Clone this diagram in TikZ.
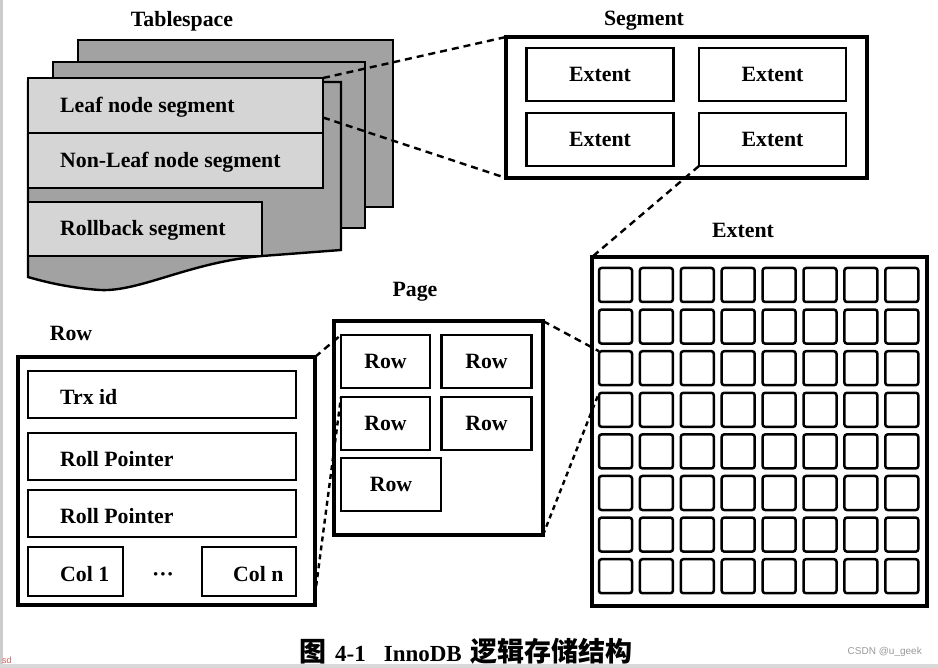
\documentclass[tikz,border=0pt]{standalone}
\usepackage{fontspec}
\setmainfont{Liberation Serif}
\newfontfamily\cjk{Noto Sans CJK SC}
\newfontfamily\wmfont{Liberation Sans}
\usetikzlibrary{calc}
\definecolor{tsdark}{HTML}{A2A2A2}
\definecolor{tslight}{HTML}{D5D5D5}
\definecolor{wmgray}{HTML}{9A9A9A}
\definecolor{sdred}{HTML}{D06060}
\begin{document}
\begin{tikzpicture}[x=1pt,y=-1pt,
  lbl/.style={font=\fontsize{21.8}{22}\selectfont\bfseries, inner sep=0pt},
  box/.style={draw, line width=2.5pt, inner sep=0pt, outer sep=0pt},
  bigbox/.style={draw, line width=3.1pt, inner sep=0pt, outer sep=0pt},
  sheet/.style={fill=tsdark, draw, line width=2.4pt},
  cell/.style={draw, line width=2.5pt, rounded corners=2.5pt, inner sep=0pt, outer sep=0pt, minimum width=33pt, minimum height=34pt},
  link/.style={line width=2.4pt, dash pattern=on 7pt off 5pt},
  dotlink/.style={line width=2.4pt, dash pattern=on 5pt off 4pt}]
\useasboundingbox (0,0) rectangle (938,668);
\fill[white] (0,0) rectangle (938,668);
\fill[gray!40] (0,0) rectangle (3,668);
\fill[gray!30] (0,664) rectangle (938,668);

% ---------- Tablespace ----------
\node[lbl] (tstitle) at (182,21) {Tablespace};
\filldraw[sheet] (78,40) rectangle (393,207);
\filldraw[sheet] (53,62) rectangle (365,228);
\filldraw[sheet] (28,82) -- (341,82) -- (341,250) -- (262,256)
  .. controls (190,262) and (140,292) .. (100,290)
  .. controls (70,288) and (45,282) .. (28,277) -- cycle;
\node[box, fill=tslight, minimum width=295pt, minimum height=55pt] (leaf) at (175.5,105.5) {};
\node[box, fill=tslight, minimum width=295pt, minimum height=55pt] (nonleaf) at (175.5,160.5) {};
\node[box, fill=tslight, minimum width=234pt, minimum height=54pt] (rollback) at (145,229) {};
\node[lbl, anchor=west] (leaftxt) at (60,107) {Leaf node segment};
\node[lbl, anchor=west] (nonleaftxt) at (60,162) {Non-Leaf node segment};
\node[lbl, anchor=west] (rollbacktxt) at (60,230) {Rollback segment};

% ---------- Segment ----------
\node[lbl] (segtitle) at (644,21) {Segment};
\node[bigbox, minimum width=361pt, minimum height=141pt] (seg) at (686.5,107.5) {};
\node[box, minimum width=147pt, minimum height=53pt, lbl] (e11) at (600,74.5) {Extent};
\node[box, minimum width=147pt, minimum height=53pt, lbl] (e12) at (772.5,74.5) {Extent};
\node[box, minimum width=147pt, minimum height=53pt, lbl] (e21) at (600,139.5) {Extent};
\node[box, minimum width=147pt, minimum height=53pt, lbl] (e22) at (772.5,139.5) {Extent};

\draw[link] (leaf.north east) -- (seg.north west);
\draw[link] ([yshift=-12pt]leaf.east) -- (seg.south west);

% ---------- Extent ----------
\node[lbl] (exttitle) at (743,230) {Extent};
\node[bigbox, minimum width=335pt, minimum height=349pt] (ext) at (759.5,431.5) {};
\foreach \i in {1,...,8}
  \foreach \j in {1,...,8}
    \node[cell] (c\i-\j) at ({615.5+40.9*(\j-1)},{285+41.6*(\i-1)}) {};
\draw[link] (e22.south west) -- (ext.north west);

% ---------- Page ----------
\node[lbl] (pagetitle) at (415,292) {Page};
\node[bigbox, minimum width=209pt, minimum height=214pt] (page) at (438.5,428) {};
\node[box, lbl, minimum width=89pt, minimum height=53pt] (r1l) at (385.5,361.5) {Row};
\node[box, lbl, minimum width=90pt, minimum height=53pt] (r1r) at (486.5,361.5) {Row};
\node[box, lbl, minimum width=89pt, minimum height=53pt] (r2l) at (385.5,423.5) {Row};
\node[box, lbl, minimum width=90pt, minimum height=53pt] (r2r) at (486.5,423.5) {Row};
\node[box, lbl, minimum width=100pt, minimum height=53pt] (r3) at (391,484.5) {Row};
\draw[link] (page.north east) -- (c3-1.north west);
\draw[dotlink] (page.south east) -- (c4-1.north west);

% ---------- Row ----------
\node[lbl] (rowtitle) at (71,333) {Row};
\node[bigbox, minimum width=297pt, minimum height=248pt] (rowbox) at (166.5,481) {};
\node[box, minimum width=268pt, minimum height=47pt] (trx) at (162,394.5) {};
\node[box, minimum width=268pt, minimum height=47pt] (rp1) at (162,456.5) {};
\node[box, minimum width=268pt, minimum height=47pt] (rp2) at (162,513.5) {};
\node[box, minimum width=95pt, minimum height=49pt] (col1) at (75.5,571.5) {};
\node[box, minimum width=94pt, minimum height=49pt] (coln) at (249,571.5) {};
\node[lbl, anchor=west] (trxtxt) at (60,397) {Trx id};
\node[lbl, anchor=west] (rp1txt) at (60,459) {Roll Pointer};
\node[lbl, anchor=west] (rp2txt) at (60,516) {Roll Pointer};
\node[lbl, anchor=west] (col1txt) at (60,574) {Col 1};
\node[lbl, anchor=west] (colntxt) at (233,574) {Col n};
\node[lbl] (dots) at (163,577) {···};
\draw[link] (rowbox.north east) -- (r1l.north west);
\draw[dotlink] ([yshift=10pt]rowbox.south east) -- (r2l.north west);

% ---------- Caption & marks ----------
\node[inner sep=0pt, font=\bfseries\fontsize{23}{23}\selectfont] (caption) at (466,651)
  {{\cjk\fontsize{27}{27}\selectfont 图}\hspace{9pt}4-1\hspace{18pt}InnoDB\hspace{9pt}{\cjk\fontsize{27}{27}\selectfont 逻辑存储结构}};
\node[inner sep=0pt, font=\wmfont\fontsize{10}{10}\selectfont, text=wmgray, anchor=east] (wm) at (922,652) {CSDN @u\_geek};
\node[inner sep=0pt, font=\wmfont\fontsize{9}{9}\selectfont, text=sdred, anchor=west] (sd) at (2,660) {sd};
\end{tikzpicture}
\end{document}
